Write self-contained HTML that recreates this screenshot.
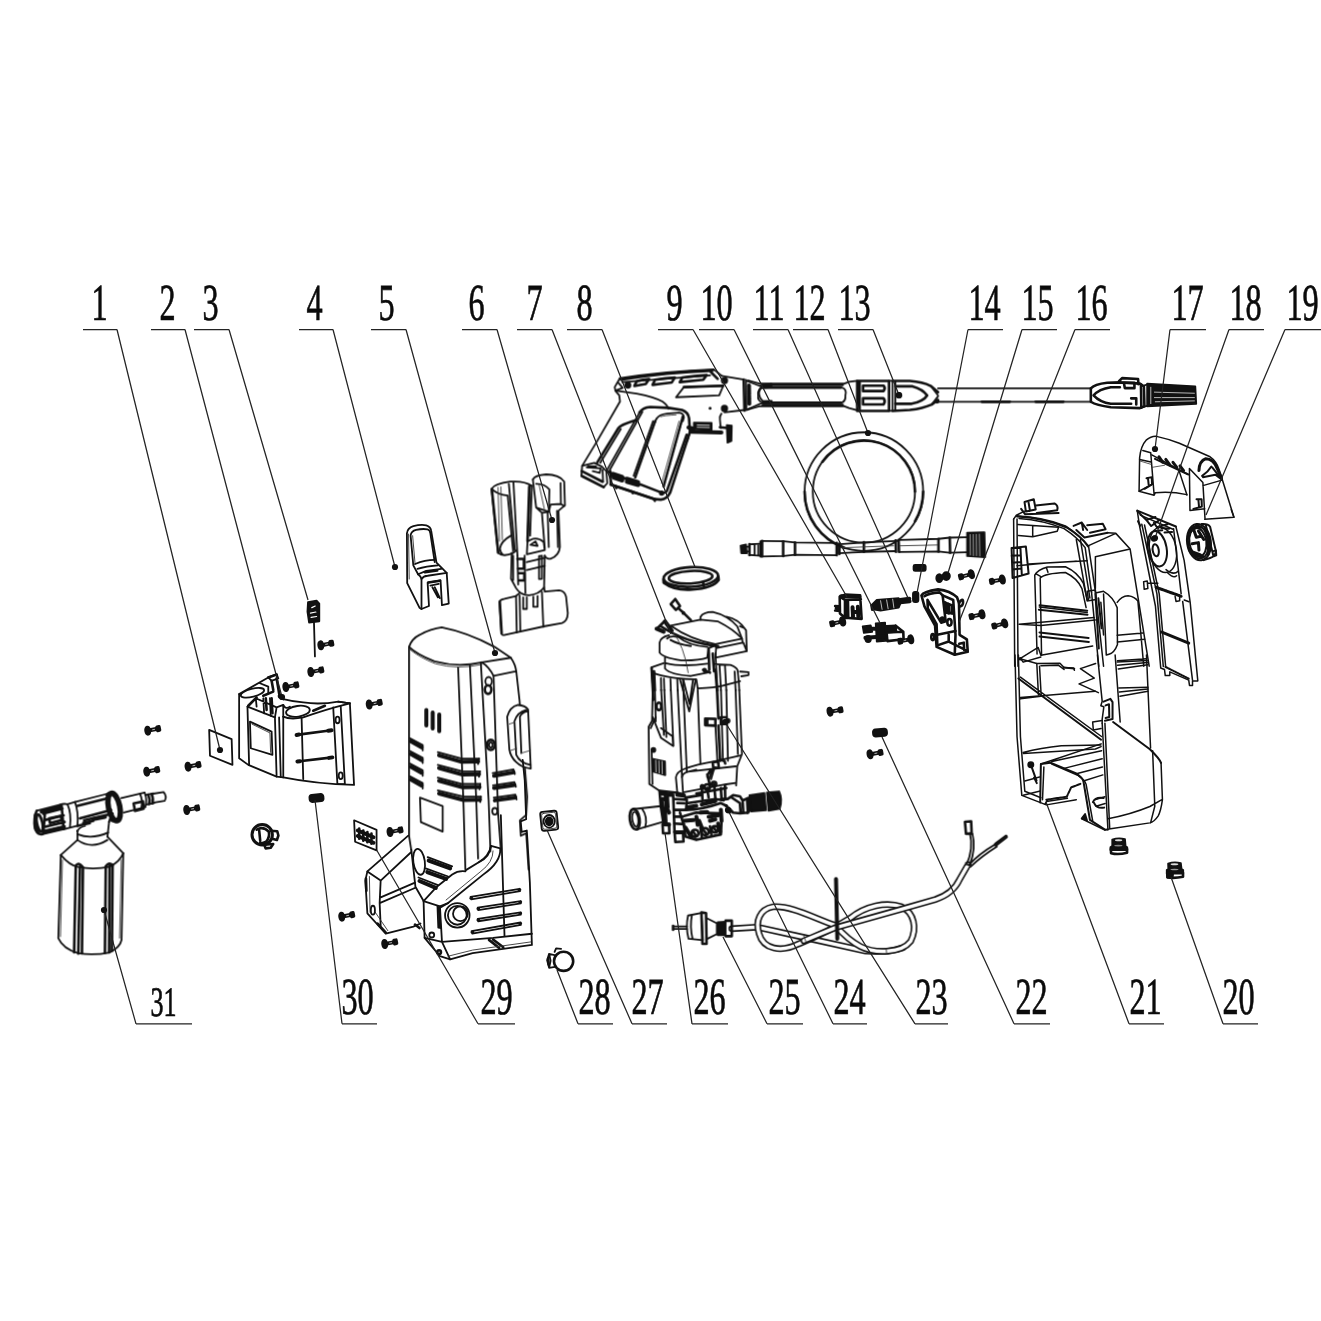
<!DOCTYPE html>
<html><head><meta charset="utf-8"><title>Exploded parts diagram</title>
<style>
html,body{margin:0;padding:0;background:#fff;}
body{width:1321px;height:1321px;overflow:hidden;font-family:"Liberation Serif",serif;}
svg{display:block;}
svg *{vector-effect:non-scaling-stroke;}
.p path,.p line,.p ellipse,.p circle,.p polyline,.p rect,.p polygon{fill:none;stroke:#111;stroke-width:1.8;stroke-linecap:round;stroke-linejoin:round;}
.p .t{stroke-width:0.9;stroke:#333;}
.p .thin path,.p .thin ellipse,.p .thin circle{stroke-width:1.5;}
.p .thin .k{stroke-width:2;}
.p .thin .kk{stroke-width:3;}
.p .thin .t{stroke-width:0.8;}
.p .k{stroke-width:2.6;}
.p .kk{stroke-width:4;}
.p .f{fill:#111;}
.p .w{fill:#fff;}
.ld{fill:none;stroke:#222;stroke-width:1.25;}
.dot{fill:#111;stroke:none;}
text{font-family:"Liberation Serif",serif;fill:#0a0a0a;stroke:#0a0a0a;stroke-width:0.7;text-rendering:geometricPrecision;}
#labels{opacity:0.995;}
</style></head><body>
<svg width="1321" height="1321" viewBox="0 0 1321 1321">
<rect x="0" y="0" width="1321" height="1321" fill="#fff" stroke="none"/>
<g class="p" style="filter:blur(0.35px)">
<defs><g id="scr"><ellipse cx="0" cy="0" rx="2.5" ry="4.1" class="f"/><path d="M2 0 L10 0" style="stroke-width:4;stroke-linecap:butt"/><rect x="9" y="-2.5" width="3.6" height="5" rx="0.8" class="f"/><path d="M4.6 0 L7.4 0" style="stroke:#fff;stroke-width:0.7;stroke-linecap:butt"/></g>
<g id="blob"><rect x="-7" y="-3.6" width="14" height="7.2" rx="2.5" class="f"/></g></defs><use href="#scr" transform="translate(320.8,645.3) rotate(-11)"/><use href="#scr" transform="translate(310.8,672) rotate(-11)"/><use href="#scr" transform="translate(285.8,687) rotate(-11)"/><use href="#scr" transform="translate(369.2,704.5) rotate(-11)"/><use href="#scr" transform="translate(390,832) rotate(-11)"/><use href="#scr" transform="translate(384.7,944) rotate(-11)"/><use href="#scr" transform="translate(147.7,730.7) rotate(-11)"/><use href="#scr" transform="translate(146.7,771.7) rotate(-11)"/><use href="#scr" transform="translate(188,766.7) rotate(-11)"/><use href="#scr" transform="translate(186.7,810) rotate(-11)"/><use href="#scr" transform="translate(341.7,916.7) rotate(-11)"/><use href="#scr" transform="translate(842.7,621.5) rotate(168)"/><use href="#scr" transform="translate(971.4,574.2) rotate(166)"/><use href="#scr" transform="translate(1002.4,579.5) rotate(170)"/><use href="#scr" transform="translate(982,614.3) rotate(168)"/><use href="#scr" transform="translate(1004.7,623.4) rotate(166)"/><use href="#scr" transform="translate(910.8,639.3) rotate(170)"/><use href="#scr" transform="translate(830,711.7) rotate(-10)"/><use href="#scr" transform="translate(870,754.3) rotate(-10)"/><use href="#blob" transform="translate(316.5,798) rotate(-5)"/><use href="#blob" transform="translate(880,732.7) rotate(-5)"/>
<!-- 02_cover.svg -->
<g transform="translate(190,620) scale(0.16654)">
<!-- part 1 sticker -->
<path d="M115 660 L250 715 L255 870 L120 815 Z"/>
<!-- part 2 cover -->
<path d="M295 445 L295 830 L350 870 L520 940 L560 945 Q760 985 985 990 L960 500 L890 490"/>
<path d="M295 445 L470 345 M345 520 L355 870 M345 520 L510 585 L520 940 M535 585 L545 942 M560 580 L560 945"/>
<path d="M360 610 L490 670 L495 810 L365 770 Z"/>
<path class="t" d="M372 625 L480 678 L484 795"/>
<ellipse cx="375" cy="437" rx="72" ry="24" transform="rotate(-14 375 437)"/>
<ellipse cx="648" cy="548" rx="72" ry="32" transform="rotate(-8 648 548)"/>
<path d="M560 580 Q600 600 680 585 Q800 540 960 500"/>
<path d="M670 585 L680 955 M860 525 L885 985 M905 518 L930 985 M885 985 L930 985"/>
<ellipse cx="886" cy="600" rx="12" ry="20"/><ellipse cx="905" cy="935" rx="12" ry="20"/>
<path class="k" d="M640 690 L850 662 M645 850 L855 825"/>
<path class="kk" d="M830 665 L850 662 M835 828 L855 825 M640 690 L655 688 M645 850 L660 848"/>
<!-- top details -->
<path d="M345 520 L395 470 L520 525 L510 585 M395 470 L400 520 M440 470 L445 560 M480 470 L485 575 M520 525 L560 510 L560 580"/>
<path class="k" d="M350 515 L400 465 M440 455 L500 430 M455 470 L460 540 M490 470 L495 560"/>
<path d="M470 345 L520 325 L530 350 L490 365 Z"/>
<path class="k" d="M470 345 L520 328 M490 365 L500 420 M520 350 L535 440 Q540 470 560 475"/>
<circle class="f" cx="542" cy="457" r="10"/>
<path d="M560 475 Q620 490 680 495 Q780 510 890 490 L960 500"/>
<path d="M560 510 Q575 540 600 520"/>
<path class="k" d="M740 545 L810 515"/>
<path d="M420 380 L470 400 L470 440"/>
</g>

<!-- 03_04.svg -->
<g transform="translate(290,500) scale(0.13626)">
<!-- part 3 plug -->
<path class="f" d="M132 750 L195 738 L215 760 L215 890 L140 900 L128 820 Z"/>
<path d="M160 790 L185 778 M150 830 L190 822 M155 862 L195 855" style="stroke:#fff;stroke-width:1.2"/>
<path d="M176 900 L183 1148"/>
<!-- part 4 clip -->
<path d="M860 590 L858 245 Q862 205 905 192 Q960 178 1000 186 Q1032 195 1036 225 L1075 460 L1150 535 L1165 760 L1115 772 L1105 590 L1010 606 L1020 778 L965 800 L950 790 L860 610 Z"/>
<path d="M885 260 Q890 228 925 220 Q975 208 1010 216 Q1028 222 1030 245 M885 260 L905 480 L940 545 M1030 245 L1062 455"/>
<path class="t" d="M900 262 L918 470 M870 250 L875 580"/>
<path d="M918 470 Q990 440 1062 440 M935 505 Q1000 485 1085 480 M940 545 Q960 560 965 580 L965 800 M940 545 L1000 520 L1110 505"/>
<path d="M965 580 Q980 558 1010 556 L1150 535"/>
<path class="k" d="M990 530 L1080 518 M1015 606 L1100 592"/>
<path d="M1030 628 L1092 616 M1062 640 L1100 720 M1045 640 L1085 715"/>
</g>

<!-- 05_housing.svg -->
<g transform="translate(380,615) scale(0.18168)">
<!-- top -->
<path d="M160 175 Q175 130 220 108 Q280 75 340 68 Q480 95 630 175 L720 235 L560 260 Q430 290 300 255 Q200 215 160 175 Z"/>
<path class="t" d="M165 190 Q220 235 305 268 Q430 302 560 272"/>
<path d="M160 175 L160 1215 L172 1293"/>
<path d="M430 290 L459 1023 L470 1400 M495 278 L530 1020 L540 1340 M555 262 L598 1020 L608 1300"/>
<path d="M560 260 Q600 285 625 335 L650 1090 L665 1290"/>
<path d="M625 335 L745 310 M720 235 Q745 270 750 310 L768 470 L810 1000 L805 1100 L770 1130 L775 1215 L805 1200 L818 1400"/>
<!-- handle -->
<path class="w" d="M700 560 Q715 505 760 495 Q800 498 815 520 L830 845 Q780 840 750 810 Q718 780 712 740 Z"/>
<path d="M740 585 Q755 535 805 522 M740 585 L750 770 Q770 815 828 825 M770 560 Q780 535 812 530 M770 560 L778 760"/>
<path class="t" d="M712 600 L742 590 M720 745 L752 735 M778 760 L828 745"/>
<!-- circles -->
<ellipse cx="598" cy="365" rx="18" ry="24"/><ellipse class="k" cx="595" cy="410" rx="18" ry="24"/>
<ellipse class="k" cx="610" cy="715" rx="22" ry="28"/><ellipse cx="610" cy="715" rx="10" ry="14"/>
<ellipse cx="632" cy="1080" rx="14" ry="18"/>
<!-- top slots -->
<path class="kk" d="M255 522 L255 608 M290 537 L290 625 M326 548 L326 640"/>
<!-- left vents -->
<path class="kk" d="M170 695 L228 728 M170 765 L228 798 M170 835 L228 868 M170 905 L228 938"/>
<path d="M165 678 L235 715 L235 745 M165 748 L235 785 L235 815 M165 818 L235 855 L235 885 M165 888 L235 925 L235 955"/>
<!-- centre vents -->
<path class="kk" d="M325 772 L450 808 L540 806 M325 842 L455 878 L545 876 M325 912 L455 948 L548 946 M325 982 L460 1018 L550 1016"/>
<path d="M318 755 L450 790 L545 790 M318 825 L455 860 L550 860 M318 895 L455 930 L552 930 M318 965 L460 1000 L555 1000"/>
<path d="M540 820 L545 790 M545 890 L550 860 M548 960 L552 930 M552 1030 L555 1000"/>
<!-- right vents -->
<path class="kk" d="M628 885 L735 866 M628 952 L740 935 M632 1020 L745 1004"/>
<path d="M620 870 L735 850 L742 875 M622 937 L740 920 L748 945 M626 1005 L745 988 L752 1015"/>
<!-- label rect -->
<path d="M220 1005 L345 1052 L345 1192 L225 1140 Z"/>
</g>
<g transform="translate(350,760) scale(0.20439)">
<!-- rear foot -->
<path d="M285 370 L85 545 L75 590 L85 750 L175 850 L310 815 L345 800"/>
<path d="M150 590 L300 450 M85 545 L150 590 L145 700 L320 625 M145 700 L150 810 M150 672 L318 600"/>
<path class="t" d="M95 570 L98 745 M120 740 L185 835"/>
<ellipse cx="112" cy="735" rx="10" ry="22"/>
<path class="k" d="M78 580 L80 640 M135 800 L175 845"/>
<!-- oval hole -->
<ellipse cx="338" cy="498" rx="28" ry="64" transform="rotate(-8 338 498)"/>
<path d="M300 440 L320 620 L360 690"/>
<!-- lower-left vents -->
<path class="kk" d="M385 492 L490 530 M378 548 L470 582 M340 592 L420 626"/>
<path d="M380 475 L500 520 M370 530 L480 570 M335 575 L430 612"/>
<!-- body curve -->
<path d="M565 540 L630 500 M630 500 Q685 475 690 420 L735 432 Q740 500 650 562 L480 700 L445 720"/>
<path d="M690 420 Q680 470 630 500"/>
<path d="M500 560 Q530 540 565 545 M360 690 L425 620 L500 560 M360 690 L440 716 L480 700"/>
<path class="t" d="M700 445 Q700 500 640 545 L470 685"/>
<!-- front foot -->
<path d="M360 690 L365 870 L440 960 L490 975 L600 945 L890 905 L880 600 L865 345 L840 352 L835 300 L862 290 L855 100 L845 0"/>
<path d="M440 716 L450 890 L490 975 M450 890 L700 870 L890 850 M365 870 L450 890"/>
<path class="k" d="M436 722 L440 812"/>
<path d="M428 715 L432 820 L446 822"/>
<circle cx="525" cy="760" r="60"/><circle cx="525" cy="760" r="46"/><circle cx="540" cy="752" r="36"/>
<path d="M590 670 L830 630 M593 682 L832 642 M625 722 L835 690 M627 734 L836 702 M625 777 L835 745 M627 789 L836 757 M595 837 L835 795 M598 849 L836 807"/>
<path class="k" d="M590 676 L596 675 M826 636 L832 635 M625 728 L630 727 M830 696 L836 695 M625 783 L630 782 M830 751 L836 750 M596 843 L602 842 M830 801 L836 800"/>
<path class="k" d="M680 880 L730 920 M700 878 L750 916"/>
<circle cx="400" cy="856" r="12"/><circle class="k" cx="436" cy="940" r="9"/>
<path d="M738 270 L756 862"/>
<path class="t" d="M480 960 L600 930 L885 890"/>
<!-- sticker 29 -->
<path d="M20 295 L130 342 L130 442 L25 400 Z"/>
<path class="kk" d="M38 345 L115 378 M38 372 L115 405"/>
<path class="k" d="M45 335 L45 385 M65 345 L65 395 M85 352 L85 402 M105 360 L105 410"/>
<!-- small screw-ish near 29 line -->
<path class="k" d="M318 805 L340 822"/>
</g>
<!-- part 27 button -->
<g transform="translate(549.2,820.8)">
<rect x="-8.3" y="-9.5" width="16.6" height="19" rx="2.5" transform="rotate(-6)"/>
<rect class="t" x="-7" y="-8" width="14" height="16" rx="2" transform="rotate(-6)"/>
<ellipse cx="0" cy="0.5" rx="5.6" ry="6.3"/><ellipse class="f" cx="0" cy="0.5" rx="3.4" ry="4"/>
</g>
<!-- part 28 cap -->
<g transform="translate(563.6,961.3)">
<circle class="k" cx="0" cy="0" r="9.6"/>
<path d="M-8 -6 L-14.5 -7.5 L-16.5 -1 L-14.5 6.5 L-8.5 5.5 M-14.5 -7.5 L-13 -0.5 L-14.5 6.5 M-9 -9.5 L-7.5 -13 L-2.5 -12.5"/>
<path class="k" d="M-15.5 -3 L-15 3"/>
</g>

<!-- 06_holder.svg -->
<g transform="translate(470,455) scale(0.14383)">
<!-- left cylinder -->
<path d="M150 235 Q170 200 280 185 Q380 178 430 215 M150 235 L195 680 Q230 712 300 682 L320 665"/>
<path d="M150 235 Q190 275 262 282 M262 282 L300 670 M270 200 L312 660 M302 190 L330 700 M415 215 L400 600 M430 215 L418 560"/>
<path class="k" d="M152 240 L196 678 M412 220 L400 598"/>
<path d="M208 650 Q215 600 285 560 M208 650 Q212 680 225 690"/>
<path class="t" d="M195 225 L205 600 M215 222 L225 590"/>
<!-- right cylinder -->
<path d="M437 170 Q450 140 530 135 Q620 135 655 185 L660 350 L615 388 L625 640 Q620 700 560 722 Q530 722 520 700"/>
<path d="M437 170 L460 365 L500 402 L520 650 M460 200 Q520 200 552 240 L548 395 L505 402 M460 365 L548 395"/>
<path d="M630 195 L632 340 M560 345 L632 340 L655 355 M560 345 L548 395 M540 400 L548 640 M605 388 L612 640"/>
<path class="t" d="M480 205 L520 390"/>
<!-- connector -->
<path d="M400 600 L395 690 L520 660 L512 605 Q480 575 440 582 Z"/>
<path d="M420 625 L455 600 L470 632 Z"/>
<!-- lower body -->
<path d="M290 680 L285 860 L320 925 Q350 975 410 975 Q480 968 515 920 L520 700"/>
<path d="M300 700 L300 870 M330 700 L335 900 M380 700 L385 960 M395 745 L520 715 M395 800 L520 770"/>
<path class="k" d="M330 722 L375 722 L375 790 L335 790 M340 822 L378 822 L378 872 L342 872"/>
<path d="M480 702 L500 700 L500 860 L480 862 Z"/>
<!-- prongs -->
<path d="M370 990 L370 1070 L395 1070 L395 990 M440 985 L440 1055 L470 1055 L470 980"/>
<!-- base -->
<path d="M205 1020 Q210 1005 240 1000 L320 980 L345 960 M515 920 L520 950 L620 940 Q660 945 668 985 L680 1100 Q678 1155 640 1168 L520 1190 L245 1250 Q220 1258 218 1235 L205 1020"/>
<path d="M320 980 L325 1235 M345 975 L350 1228 M500 952 L510 1195"/>
<path class="k" d="M207 1020 L220 1240"/>
</g>

<!-- 07_gun.svg -->
<g transform="translate(570,350) scale(0.1514)">
<!-- top rail -->
<path d="M330 185 Q640 140 950 128 L1000 170 M335 198 Q640 152 940 140 M345 212 L925 168"/>
<path d="M330 190 Q640 146 950 132"/><path class="k" d="M930 145 L975 190"/>
<path d="M330 185 L295 245 L300 270 L325 300 L330 340 L180 600 L80 765"/>
<path d="M318 215 L348 250 L300 268"/>
<!-- slots -->
<path class="k" d="M440 207 Q480 195 522 192 L500 224 Q460 230 425 237 Z M562 196 Q630 184 692 182 L672 214 Q600 222 545 230 Z M742 182 Q820 170 902 166 L880 196 Q800 204 725 212 Z"/>
<path d="M752 245 L1012 236 L985 300 L700 312 Z"/>
<path class="k" d="M752 245 L1012 236"/>
<circle class="f" cx="382" cy="232" r="17"/><circle class="f" cx="1020" cy="202" r="18"/><circle class="f" cx="1020" cy="386" r="18"/>
<circle class="f" cx="925" cy="385" r="4"/>
<!-- lower body line -->
<path d="M300 268 L440 288 Q560 312 610 340 Q645 365 650 388"/>
<!-- grip -->
<path class="k" d="M458 412 Q480 380 530 376 L650 382 L740 396 Q780 410 786 450 L792 540 L662 940 Q640 985 600 988 L560 985 L268 888"/>
<path d="M455 420 L240 800 M478 408 L262 792 M792 540 L775 600"/>
<path class="k" d="M770 560 L640 930 M245 802 L600 940 Q630 948 640 930"/>
<path d="M570 455 Q590 425 640 420 L720 414 Q750 418 752 445 L745 470"/>
<path class="k" d="M562 470 L430 842" style="stroke-dasharray:2 1.2"/>
<path class="k" d="M745 440 L618 900" style="stroke-dasharray:2 1.2"/>
<path d="M548 470 L420 830 M570 455 L560 480"/>
<path class="t" d="M600 440 Q620 432 700 428 M720 470 L605 880"/>
<!-- curved back line -->
<path class="k" d="M180 742 L320 515 Q340 490 440 462"/>
<path d="M200 745 L335 522"/>
<!-- butt -->
<path d="M80 765 L75 832 L222 906 L246 880 L240 800 L210 770 L160 745 Z"/>
<path class="k" d="M78 800 L215 870 M78 832 L222 906"/>
<path d="M110 775 L202 782 L196 812 L150 800 M215 790 L218 870"/>
<path class="k" d="M120 770 L170 772"/>
<!-- bottom plate -->
<path class="k" d="M265 800 L270 885 M268 888 L560 985"/>
<path class="kk" d="M285 818 L345 838 L345 862 L288 842 Z M375 850 L450 872 M375 870 L450 892"/>
<path class="k" d="M300 900 L305 912 M410 935 L415 945 M555 985 L560 996"/>
<circle class="f" cx="605" cy="945" r="12"/>
<!-- right of body -->
<path d="M1000 170 L1150 195 M1020 412 L1150 396 M1000 420 Q985 440 990 460 L995 515"/>
<path class="k" d="M1147 195 L1152 400"/>
<path d="M1162 198 L1165 398 M1162 200 L1250 236 L1330 226 M1165 396 L1262 352 L1330 346"/>
<path class="kk" d="M1182 235 L1184 355" style="stroke-dasharray:1.6 0.8"/>
<path d="M1255 255 Q1235 300 1270 335"/>
<path class="k" d="M1262 245 L1330 238 M1275 340 L1330 338"/>
<!-- trigger mech -->
<path class="f" d="M818 480 L935 482 L935 528 L818 524 Z"/>
<path d="M840 495 L920 497 M840 510 L920 512" style="stroke:#fff;stroke-width:0.8"/>
<path class="kk" d="M782 512 L815 520 M800 540 L1000 545"/>
<path class="k" d="M990 510 L1040 515"/>
<path class="f" d="M1035 496 L1068 500 L1066 600 L1040 612 Z"/>
</g>

<!-- 08_lance.svg -->
<g transform="translate(750,350) scale(0.18168)">
<path d="M-10 168 L50 185 L520 185 L545 175 L590 170 M-10 327 L50 310 L520 310 L545 320 L590 332"/>
<path class="k" d="M70 192 L510 192 M70 303 L510 303"/>
<path d="M70 207 L505 207 Q535 215 525 250 Q528 280 505 290 L70 290 Q40 280 45 248 Q42 215 70 207 Z"/>
<path class="k" d="M75 207 L500 207 M75 290 L500 290"/>
<!-- block -->
<path class="k" d="M590 170 L765 170 L765 335 L590 335 Z M603 175 L603 330"/>
<path class="k" d="M622 196 L735 196 Q748 210 735 226 L622 226 Z M622 266 L735 266 Q748 282 735 300 L622 300 Z"/>
<path d="M765 170 L785 170 L785 335 L765 335"/>
<!-- nose -->
<path class="k" d="M785 170 L880 170 Q950 175 995 198 L1035 232 M785 335 L880 330 Q950 322 1000 300 L1035 275"/>
<path class="k" d="M800 200 L895 200 Q950 215 975 250 Q955 282 890 296 L800 296"/>
<path d="M995 198 Q1015 225 1035 250 M1000 300 Q1020 275 1035 255 M800 175 L800 330"/>
<circle class="f" cx="820" cy="250" r="12"/><circle class="f" cx="1030" cy="282" r="8"/>
<!-- rod -->
<path d="M1035 211 L1876 211 M1035 285 L1876 285"/>
<path class="k" d="M1285 285 L1300 285 M1276 285 L1430 285 M1572 285 L1725 285"/>
<g transform="translate(1266,0)">
<path class="k" d="M610 211 Q630 188 700 180 L770 178 L880 185 L902 200 L905 310 L880 320 L720 315 Q640 305 610 285 Z"/>
<path class="k" d="M770 205 L720 205 Q655 215 625 250 Q660 288 720 296 L832 296"/>
<path class="k" d="M765 172 L782 155 L870 160 L872 188 M792 180 L850 180 L850 210 L797 210 Z"/>
<path class="k" d="M832 266 L860 266 L860 300"/>
<path class="k" d="M886 190 L888 318"/>
<path class="f" d="M920 185 L1185 200 L1190 296 L920 310 Z"/>
<path d="M960 232 L1180 238 M960 262 L1180 262 M965 285 L1180 280 M940 205 L940 295" style="stroke:#fff;stroke-width:0.7"/>
<path d="M905 195 L920 190 M905 312 L920 308"/>
</g>
</g>

<!-- 09_switch.svg -->
<g transform="translate(820,550) scale(0.1514)">
<!-- part 9 switch -->
<path class="k" d="M130 308 L165 295 L265 300 L275 455 L165 448 L132 420 Z M165 330 L270 326 M165 330 L165 448 M130 308 L165 330"/>
<path class="kk" d="M140 305 L260 308 M180 340 L182 440"/>
<path class="kk" d="M215 378 L218 440 M250 375 L253 438 M216 410 L252 408"/>
<path class="k" d="M100 370 L130 372 M100 400 L130 402 M105 385 L130 386"/>
<!-- part 11 -->
<path class="f" d="M345 360 L375 330 L520 318 L535 345 L520 380 L400 400 L350 392 Z"/>
<path class="kk" d="M530 330 L590 322 M530 345 L592 338"/>
<path d="M400 335 L410 392 M440 330 L450 388 M480 325 L488 382" style="stroke:#fff;stroke-width:0.7"/>
<path class="k" d="M340 365 L345 395"/>
<!-- part 14 bits -->
<rect class="f" x="618" y="98" width="80" height="40" rx="10"/>
<rect class="f" x="614" y="276" width="36" height="68" rx="14"/>
<!-- part 15 screw+nut -->
<ellipse class="f" cx="788" cy="186" rx="20" ry="26"/><ellipse class="f" cx="834" cy="172" rx="24" ry="26"/>
<!-- part 10 microswitch -->
<path class="f" d="M282 505 L335 498 L345 540 L290 548 Z M368 485 L430 480 L435 600 L375 605 Z M440 502 L500 498 L505 540 L445 545 Z"/>
<path class="k" d="M440 545 L550 540 L552 590 L445 602 Z M500 500 L550 540"/>
<path class="kk" d="M300 580 L420 572 M345 520 L370 520"/>
<ellipse class="f" cx="318" cy="588" rx="18" ry="20"/>
<!-- part 16 bracket -->
<path class="k" d="M670 300 Q680 275 780 260 Q860 270 905 312 L918 350 L922 560 L970 590 L976 672 L890 692 L770 640 L760 500 L690 372 Z"/>
<path class="k" d="M690 305 Q720 285 790 280 L810 300 L830 470 L800 480 L710 330 M710 330 L712 385 L770 490 L775 630"/>
<path class="k" d="M918 350 Q945 310 945 345 Q945 370 920 375"/>
<path class="k" d="M810 300 L880 330 L895 560 L890 690 M830 350 L870 365 L872 420 L835 410"/>
<path class="kk" d="M825 350 L835 410 M845 360 L850 415"/>
<ellipse class="k" cx="855" cy="478" rx="14" ry="22"/><ellipse class="f" cx="808" cy="458" rx="12" ry="14"/>
<path class="k" d="M775 560 L895 535 M775 630 L850 605 L850 560 M850 605 L970 665 M920 620 L950 612 L952 660"/>
<ellipse class="k" cx="745" cy="575" rx="10" ry="20"/>
</g>

<!-- 12_hose.svg -->
<g transform="translate(730,415) scale(0.20439)">
<circle cx="655" cy="375" r="290"/>
<circle cx="655" cy="375" r="250"/>
<path class="k" d="M452 229 A250 250 0 0 1 905 375 M365 375 A290 290 0 0 0 560 650 M945 375 A290 290 0 0 1 905 520"/>
<!-- left wand -->
<path class="f" d="M52 640 L78 634 L82 676 L55 676 Z"/>
<path class="k" d="M95 632 L95 685 M150 620 L150 692"/>
<path d="M82 645 L95 645 M82 668 L95 668 M95 632 L150 630 M95 685 L150 688 M120 632 L120 686 M138 632 L138 688"/>
<path d="M155 616 L262 618 L318 624 L520 626 M155 692 L262 690 L318 684 L520 686"/>
<path class="k" d="M157 616 L157 692 M260 618 L260 690 M318 624 L318 684 M522 626 L522 686 M535 630 L535 680"/>
<path d="M535 632 L655 624 L810 616 M535 676 Q600 672 655 670 L810 666"/>
<path class="k" d="M655 622 L655 670 M810 614 L812 670 M825 612 L827 670"/>
<path d="M827 612 L1020 606 L1075 600 L1160 598 M827 670 L1020 668 L1075 674 L1160 672"/>
<path class="k" d="M1020 606 L1020 668 M1075 600 L1077 674"/>
<path class="t" d="M540 650 L800 640 M830 640 L1015 636"/>
<!-- nut -->
<path class="f" d="M1160 576 L1245 574 L1248 696 L1160 690 Z"/>
<path d="M1175 585 L1176 685 M1190 585 L1191 688 M1205 584 L1206 688 M1220 583 L1222 690" style="stroke:#fff;stroke-width:0.6"/>
</g>

<!-- 17_18_19.svg -->
<g class="thin" transform="translate(1120,425) scale(0.10598)">
<!-- part 17 -->
<path d="M180 625 L185 310 Q195 200 250 140 Q290 105 335 105 Q450 130 560 172 L850 300 Q910 340 935 420 L962 505 L1075 870 L800 890"/>
<path d="M1050 800 L1075 870 M215 240 L290 262 L322 660 M185 325 L292 350 M180 625 L322 662 L332 640 Q480 625 630 657 M180 625 L300 560"/>
<path class="t" d="M190 340 L295 372 M300 400 L420 380"/>
<path d="M300 282 L650 470 M560 440 L632 660 M655 410 L660 806 L800 790 M655 410 L782 542 L802 882 M782 572 L962 520"/>
<path class="kk" d="M368 300 L402 350 M432 325 L470 376 M500 352 L536 400 M566 386 L600 430"/>
<path class="k" d="M330 320 L640 465"/>
<path class="kk" d="M745 430 Q748 340 810 318 Q880 320 912 400 L958 500"/>
<path class="k" d="M775 480 Q830 445 862 392 M782 492 L900 470 L962 515 M872 402 L960 512"/>
<path class="k" d="M250 502 L300 492 L302 560 L232 602 M265 510 L270 560 M722 700 L770 700 L772 770 L692 792 M740 710 L745 765"/>
<!-- part 19 wheel (drawn in this tile coords) -->
<ellipse class="k" cx="745" cy="1105" rx="112" ry="172" transform="rotate(-8 745 1105)"/>
<ellipse class="k" cx="735" cy="1105" rx="80" ry="135" transform="rotate(-8 735 1105)"/>
<path class="k" d="M770 935 Q830 930 850 960 L905 1190 Q900 1240 850 1255 L790 1275 M810 945 L880 1230"/>
<path class="kk" d="M700 1000 L720 1060 L760 1050 M680 1120 L740 1110 L745 1180 M690 1200 L760 1225 M740 1000 L790 1080"/>
<path class="k" d="M880 1190 L905 1185 L908 1230 L885 1238"/>
<path class="kk" d="M660 1010 Q700 960 760 965 M655 1180 Q700 1250 780 1240 M800 980 Q850 1100 830 1220"/>
<ellipse class="k" cx="740" cy="1105" rx="98" ry="155" transform="rotate(-8 740 1105)"/>
</g>
<g class="thin" transform="translate(1110,500) scale(0.1514)">
<!-- part 18 panel -->
<path class="k" d="M180 70 L435 175"/>
<path d="M435 175 L490 400 L530 680 L580 1195 L545 1195 L545 1225 L525 1225 L520 1190 L395 1135 L395 1160 L365 1160 L360 1120 L335 1110 L300 700 L195 170 L180 70"/>
<path d="M210 160 L310 620 L352 1100 M228 165 L325 620 L368 1105 M420 190 L470 620 M480 670 L545 1190 M200 100 L420 195"/>
<path class="k" d="M185 140 L200 170 M182 75 L240 132 L300 112 M232 122 L272 172 L330 130 M290 150 L310 180 L380 160 M340 185 L390 190"/>
<ellipse cx="350" cy="330" rx="88" ry="150" transform="rotate(-10 350 330)"/>
<ellipse class="k" cx="312" cy="322" rx="62" ry="118" transform="rotate(-10 312 322)"/>
<ellipse class="k" cx="302" cy="332" rx="20" ry="40" transform="rotate(-10 302 332)"/>
<circle class="f" cx="290" cy="256" r="15"/>
<path d="M370 460 Q420 500 450 470 M380 480 Q420 520 440 500"/>
<path class="k" d="M360 215 L410 212 M300 205 L345 200"/>
<path class="kk" d="M305 577 L470 636" style="stroke-dasharray:2 0.8"/>
<path d="M222 540 L246 535 L250 585 L226 590 Z M246 550 L316 550 M430 636 L436 670 L460 666 L460 642 M490 660 L522 672"/>
<path class="kk" d="M342 872 L520 945"/>
<path class="k" d="M366 1102 L520 1180" style="stroke-dasharray:2 0.8"/>
</g>

<!-- 21_rear.svg -->
<g class="thin" transform="translate(1000,485) scale(0.13626)">
<!-- upper -->
<path d="M100 250 L108 1330 M125 250 L132 1330"/>
<path d="M100 250 L120 222 L180 192 M120 225 Q320 235 480 300 Q590 370 650 450 L700 780 M140 245 Q320 258 470 320 Q570 385 625 460 L672 790"/>
<path class="k" d="M125 232 Q330 245 490 312 Q600 382 648 452"/>
<!-- hooks -->
<path class="k" d="M180 125 L248 105 L262 180 L190 195 Z M262 150 L400 135 Q430 150 420 185 L270 205 M155 175 L185 215 L430 205 M210 130 L220 190"/>
<path class="k" d="M540 300 L600 275 L640 330 M640 295 L755 285 L775 325 L660 350 M560 330 L620 385 L790 350 M600 275 L610 330"/>
<path d="M130 290 L430 310 L420 340 L240 380 L135 370 M240 300 L240 380"/>
<!-- right top face -->
<path d="M650 445 L850 355 L955 470 L700 527 M790 350 L850 355 M955 470 L1095 1330 M700 527 L700 760"/>
<path d="M560 400 L640 850 M590 400 L660 830"/>
<!-- left lug -->
<path class="k" d="M85 462 L190 452 L210 650 L92 682 Z M150 460 L160 660 M85 520 L150 515 M88 570 L152 565 M90 620 L155 612"/>
<!-- shelf -->
<path d="M125 592 L340 572 L640 556 M210 580 L560 560"/>
<!-- inner arch -->
<path d="M255 662 Q275 622 350 602 L480 600 Q570 640 612 722 L642 850 M255 662 L272 1240 M295 682 Q330 648 480 642 Q570 685 602 762 L632 900 M295 682 L305 1250"/>
<path d="M340 605 L352 640 M262 650 L300 672"/>
<!-- shelves -->
<path class="k" d="M290 882 L640 922 M285 915 L642 952"/>
<path d="M288 895 L640 936 M140 1022 L690 972 M140 1022 L300 1032 L700 990"/>
<path class="k" d="M290 1082 L650 1122 M290 1112 L652 1152"/>
<path d="M150 1272 L280 1192 L300 1250 L680 1182 M150 1272 L170 1300 L300 1262"/>
<circle class="f" cx="150" cy="1275" r="8"/>
<!-- capsule -->
<path d="M700 792 L760 780 Q830 820 860 900 L862 1170 Q840 1230 800 1242 L780 1248 L760 800"/>
<path class="k" d="M722 832 L745 1052 M700 800 L725 1200"/>
<path d="M640 780 L700 770 L705 840 L650 850 Z M740 860 L760 1100"/>
<path d="M860 862 Q890 815 940 812 Q990 818 1012 852 L1055 1330 M860 1102 L1050 1086 M862 1152 L1062 1132 M862 1290 L1075 1275"/>
<path d="M672 790 L725 1330 M700 780 L760 1330"/>
<g transform="translate(0,1247.6)">
<path d="M110 0 L125 600 L160 1030 L340 1100 L560 1062 M135 0 L150 600 L182 1000 L300 1048"/>
<path class="k" d="M300 800 L295 1082 M300 800 L370 790 L560 870 Q605 900 612 925 L660 1210 L770 1282 L792 1280"/>
<path d="M322 822 L312 1062 M370 790 L380 800 L575 885 Q625 920 632 950 L680 1215"/>
<path class="k" d="M340 1062 L490 1040 L522 972 L590 946" style="stroke-dasharray:3 1"/>
<path d="M340 1075 L495 1052 M330 1095 L350 1062"/>
<path class="f" d="M598 1200 L625 1165 L640 1215 Z"/>
<path d="M600 1202 L770 1285"/>
<!-- right body -->
<path d="M750 500 L792 1282 M770 500 L805 1272"/>
<path class="k" d="M830 492 L1100 692 Q1170 760 1182 792"/>
<path d="M1182 792 L1192 1062 Q1180 1150 1160 1182 Q1130 1225 1100 1232 L800 1277 M792 1202 Q960 1170 1100 1112 L1188 1062 M1120 702 L1136 1110 L1105 1232"/>
<path d="M1075 0 L1105 682 M845 0 L882 492"/>
<!-- diagonal -->
<path class="k" d="M135 172 L742 622"/>
<path d="M150 162 L745 598 M150 312 L700 266 M150 322 L330 300 M290 82 L302 292 M270 62 L282 290"/>
<path d="M140 26 L270 62 L440 60 L470 92 L540 96 L546 112 M300 78 L430 76 L470 106"/>
<path class="k" d="M470 92 L545 100"/>
<path d="M590 100 L702 62 M590 100 L692 170 L580 212 L722 276"/>
<path d="M715 0 L750 340 L740 372 L762 380 L750 470 L750 500"/>
<path class="k" d="M760 342 L810 322 L826 346 L826 470 L770 482 M775 370 L800 362 L802 455 L775 462"/>
<path d="M680 492 L750 480 M680 492 L685 550 L742 540"/>
<path d="M860 52 L1080 40 M868 102 L1085 72 M862 75 L1082 55 M872 242 L1086 236 M880 302 L1086 266 M876 272 L1086 250"/>
<!-- lower shelf + steps -->
<path d="M170 716 Q300 680 450 666 L740 660 M172 722 L700 690 L742 672"/>
<path d="M300 800 L742 652 M380 782 L746 702 M470 832 L750 762 M560 872 L752 822 M612 925 L755 880"/>
<circle class="f" cx="226" cy="806" r="20"/>
<path class="k" d="M230 815 L268 922 M250 900 L270 940"/>
<path d="M182 925 L290 895 M170 1030 L295 998"/>
<path class="k" d="M682 1080 Q700 1040 760 1050 M690 1085 Q710 1130 765 1120"/>
<path d="M700 1060 L770 1040 M705 1110 L772 1090"/>
</g>
</g>

<!-- 23_motor.svg -->
<g transform="translate(620,550) scale(0.13626)">
<!-- ring part 8 -->
<ellipse class="k" cx="520" cy="198" rx="200" ry="72" transform="rotate(-3 520 198)"/>
<ellipse class="k" cx="518" cy="200" rx="160" ry="46" transform="rotate(-3 518 200)"/>
<path class="k" d="M318 215 L320 240 Q400 300 530 290 Q680 280 724 220 L722 195 M610 235 L612 262"/>
<!-- terminal + wire -->
<path class="k" d="M372 398 L405 360 L440 412 L410 440 Z M425 425 L470 465 L520 515"/>
<circle class="f" cx="465" cy="462" r="7"/>
<!-- capacitor lid -->
<path d="M370 555 L590 512 L720 525 Q830 580 895 650 L700 692 Q520 660 370 555 Z"/>
<path class="k" d="M270 578 L330 520 L385 592 M300 560 Q480 680 720 705"/>
<path class="kk" d="M268 578 L320 600 M330 525 L370 580"/>
<path d="M590 492 Q610 455 680 455 Q790 480 860 560 L895 650 M780 490 Q870 505 925 590 L930 740 M880 560 L915 575 M590 492 L590 512"/>
<path d="M700 692 L705 720 L900 680 L895 650 M700 790 L930 742 L905 680 M650 720 L700 700 M705 720 L700 790"/>
<!-- round cap -->
<path d="M290 680 Q295 640 360 625 M290 680 L290 752 Q310 790 450 810 Q580 812 640 790 L650 720"/>
<path d="M345 650 Q370 625 430 640 Q500 700 640 712 M370 660 Q420 690 520 705"/>
<path d="M330 790 L330 870 Q370 915 520 925 L640 900 M335 830 Q450 860 640 835"/>
<path class="k" d="M650 722 L655 880 M680 760 L690 890"/>
<!-- lower housing top -->
<path d="M230 862 L320 830 M230 862 L240 1000 M240 900 Q350 945 560 950 M570 1016 Q700 1010 748 998 L881 963 M560 950 L570 1016"/>
<path class="k" d="M232 865 L245 1100 M250 890 L256 1030"/>
<path d="M300 940 L302 1030 M322 942 L325 1030 M370 948 L373 1030 M420 950 L423 1030 M462 950 L465 1030"/>
<path d="M440 950 L508 1185 L555 950 M465 955 L510 1130 L535 955"/>
<path class="t" d="M385 600 Q470 700 500 900"/>
<path d="M700 760 L715 1030 M694 838 L810 843 Q855 860 863 883 L872 972 L875 1030 M881 892 L943 896 L943 918 L890 927 M841 892 L848 1030 M730 845 L741 1030 M770 845 L780 1030"/>
<path class="k" d="M610 880 L660 900 M700 880 L712 1030"/>
<circle class="f" cx="620" cy="882" r="10"/>
<g transform="translate(0,1027.5)">
<!-- left side -->
<path d="M240 0 L235 225 L210 270 L215 690 L290 740 M262 200 L225 280"/>
<ellipse class="k" cx="285" cy="120" rx="18" ry="28"/>
<path d="M240 200 L300 350 L390 412 L385 340 L300 280 M302 0 L322 330 M325 0 L340 345 M373 0 L392 410 M256 0 L262 230"/>
<circle class="f" cx="245" cy="440" r="14"/>
<path class="f" d="M242 505 L330 525 L332 625 L245 600 Z"/>
<path d="M262 515 L264 602 M285 520 L287 610 M308 524 L310 615" style="stroke:#fff;stroke-width:0.7"/>
<path d="M232 450 L238 690"/>
<!-- ribs -->
<path d="M423 0 L455 640 M465 0 L490 600 M570 0 L590 540 M741 0 L755 520 M780 0 L792 520 M700 260 L715 530"/>
<path d="M848 0 L865 470 M875 0 L895 470 L860 560 L852 700"/>
<path class="k" d="M712 0 L722 210 M722 262 L735 520"/>
<!-- clip -->
<path class="k" d="M625 210 L700 212 L700 262 L625 258 Z M640 215 L640 255 M740 200 L782 200 M740 250 L780 250 M740 200 L740 252"/>
<circle class="f" cx="790" cy="226" r="14"/>
<!-- shroud -->
<path d="M410 642 Q415 600 470 580 Q560 545 700 522 L885 480 M410 642 L420 752 L470 765 M455 640 Q460 610 500 600 L850 560 M455 640 L462 752 M462 752 L780 692 L850 682 M500 600 L560 585"/>
<path class="k" d="M680 530 L720 525 L725 570 L685 575 Z M650 610 L700 570 M640 620 L660 700 M735 515 Q770 510 772 540"/>
<path d="M662 580 L640 640 M675 585 L655 650 M688 588 L668 655"/>
<!-- pump body -->
<path class="k" d="M290 740 L300 860 L320 990 M330 760 L340 980 M390 770 L400 1040 M290 740 L420 755"/>
<path class="kk" d="M310 800 L330 802 M340 860 L360 900 M320 985 L360 988 M405 1045 L460 1045"/>
<path class="k" d="M312 985 L360 985 L362 1052 L316 1052 Z M400 1040 L462 1040 L466 1112 L406 1116 Z"/>
<path class="k" d="M400 800 L490 805 L485 880 L400 880 M420 830 L470 832 M400 930 L460 930 M400 980 L470 985"/>
<path class="k" d="M500 830 L700 800 L760 810 M480 880 Q600 880 740 830 L780 850 M470 925 L560 900 L740 905 M470 1000 L480 1075 L560 1100 L740 1060 L745 960"/>
<path class="k" d="M600 700 L605 800 M640 720 L650 790 M690 690 L700 800 M740 720 L745 800 M770 700 L772 800"/>
<circle class="f" cx="605" cy="710" r="14"/><circle class="k" cx="640" cy="712" r="20"/><circle class="k" cx="690" cy="690" r="16"/>
<path class="kk" d="M560 930 L570 990 M590 900 L640 895 M660 960 L700 950 M720 980 L735 1040"/>
<circle class="k" cx="550" cy="1052" r="26"/><circle class="k" cx="625" cy="1040" r="26"/><circle class="k" cx="696" cy="1022" r="24"/>
<path class="k" d="M540 1045 L555 1065 M615 1032 L632 1052 M688 1012 L702 1030"/>
<path class="kk" d="M300 760 L380 770 M305 820 L330 960 M345 780 L350 860 M420 770 L470 775 M500 860 L560 850 M600 840 L700 815 M470 960 L540 955 M480 1010 L520 1075 M580 960 L600 1010 M650 930 L720 920 M740 880 L745 960"/>
<path class="k" d="M560 760 L780 720 M480 790 L600 770 M440 900 L470 1000 M660 1000 L670 1060 M590 1010 L600 1080"/>
<!-- inlet pipe -->
<ellipse class="k" cx="108" cy="948" rx="36" ry="76" transform="rotate(-8 108 948)"/>
<ellipse cx="112" cy="948" rx="22" ry="54" transform="rotate(-8 112 948)"/>
<path d="M100 874 L300 852 M128 1022 L312 968"/>
<path d="M160 868 Q205 930 185 1005"/>
<!-- outlet -->
<path class="k" d="M745 800 L790 800 L830 772 L880 780 L900 812 L940 792 M780 850 L830 900 L880 905 L940 900 M820 790 L880 830 L885 900 M900 812 L905 900"/>
<circle class="f" cx="800" cy="886" r="15"/>
<path class="f" d="M950 772 L1060 756 L1072 882 L962 892 Z"/>
<path class="f" d="M1078 752 L1168 744 Q1195 800 1172 872 L1090 886 Z"/>
<path class="f" d="M930 800 L955 790 L960 880 L935 905 Z"/>
</g>
</g>

<!-- 25_cord.svg -->
<g transform="translate(670,810) scale(0.25738)">
<!-- cord: dark wide stroke + white core -->
<g style="fill:none;stroke-linecap:round">
<path id="c1" d="M240 461 L338 455 L530 497 L760 548 Q850 555 905 535" style="stroke:#111;stroke-width:6.7"/>
<path d="M240 461 L338 455 L530 497 L760 548 Q850 555 905 535" style="stroke:#fff;stroke-width:3.5"/>
<path d="M642 448 C560 420 470 370 400 376 C350 385 330 430 346 480 C362 540 430 555 500 520 C560 495 620 470 700 420 C760 372 840 355 900 376 C950 400 960 460 935 510 C900 555 800 560 740 530 C700 510 670 480 642 448" style="stroke:#111;stroke-width:6.7"/>
<path d="M642 448 C560 420 470 370 400 376 C350 385 330 430 346 480 C362 540 430 555 500 520 C560 495 620 470 700 420 C760 372 840 355 900 376 C950 400 960 460 935 510 C900 555 800 560 740 530 C700 510 670 480 642 448" style="stroke:#fff;stroke-width:3.5"/>
<path d="M520 508 L640 458 L900 385 L1030 348 Q1100 325 1125 270 L1158 212" style="stroke:#111;stroke-width:6.7"/>
<path d="M520 508 L640 458 L900 385 L1030 348 Q1100 325 1125 270 L1158 212" style="stroke:#fff;stroke-width:3.5"/>
</g>
<path class="t" d="M520 490 L528 512 M840 540 L842 560 M1148 205 L1168 218"/>
<!-- cable tie -->
<path class="kk" d="M645 268 L650 500"/>
<!-- wires -->
<path d="M1152 212 Q1180 150 1165 90 M1164 214 Q1190 150 1175 92 M1160 214 Q1200 170 1265 132 M1168 220 Q1210 180 1270 142"/>
<path class="k" d="M1146 46 L1170 44 L1172 92 L1150 92 Z"/>
<path class="kk" d="M1266 134 L1305 104"/>
<!-- plug -->
<path d="M15 452 L66 452 M15 462 L66 462"/>
<path class="k" d="M12 450 L12 465"/>
<path d="M70 410 Q60 455 72 500 L128 506 L122 400 Z M85 408 Q76 455 88 502"/>
<path class="k" d="M122 398 L140 400 L142 520 L126 520 Z"/>
<path d="M142 420 L182 440 L182 482 L142 502"/>
<path class="f" d="M185 436 L216 434 L216 486 L185 486 Z"/>
<path class="k" d="M216 430 L240 430 L240 490 L216 490"/>
</g>
<!-- small ring -->
<g transform="translate(262.2,834.7)">
<circle class="kk" cx="0" cy="0" r="10.2" style="stroke-width:3"/>
<path class="k" d="M-5.5 -5 Q1 -9 6.5 -3 Q8 2 4 7 Q1 9 -2 8 M-3 -4 L-2 6"/>
<path class="k" d="M8.5 -4 L15 -3.5 L16.2 0.8 L14.7 5.3 L10 4"/>
<path class="k" d="M2 10 L11 9.3 L8.5 13 L3.5 13.7 Z"/>
</g>
<!-- part 20 nuts -->
<g transform="translate(1090,820) scale(0.09084)">
<path class="f" d="M245 215 Q310 195 385 210 L392 290 L410 300 L410 330 L225 330 L225 300 L245 285 Z"/>
<ellipse cx="315" cy="222" rx="40" ry="11" style="fill:#ddd;stroke:none"/>
<ellipse cx="312" cy="282" rx="45" ry="10" style="fill:#888;stroke:none"/>
<path class="k" d="M230 320 L232 365 Q310 385 408 360 L408 320"/>
<path class="f" d="M860 480 Q925 458 1000 475 L1008 540 L1026 550 L1026 590 L845 590 L845 550 L862 538 Z"/>
<ellipse cx="930" cy="488" rx="42" ry="11" style="fill:#ddd;stroke:none"/>
<ellipse cx="930" cy="545" rx="45" ry="9" style="fill:#999;stroke:none"/>
<path class="k" d="M850 580 L852 632 Q930 645 1024 625 L1024 580"/>
<path class="f" d="M850 580 L915 585 L910 638 L852 632 Z"/>
</g>

<!-- 31_bottle.svg -->
<g transform="translate(20,770) scale(0.16654)">
<!-- bottle body -->
<path d="M245 510 L230 1010 Q260 1075 350 1100 Q440 1115 540 1095 Q600 1065 610 1020 L620 500"/>
<path d="M245 510 Q300 575 350 582 Q440 600 540 580 Q600 550 620 500"/>
<path d="M245 510 L345 420 M620 500 L525 400"/>
<path d="M345 420 L345 365 M525 400 L535 310"/>
<path d="M345 420 Q430 480 525 420 M345 385 Q430 420 530 375"/>
<path class="t" d="M255 540 L243 1000 M608 540 L598 1010"/>
<!-- ribs -->
<path class="k" d="M335 575 L325 1095 M360 580 L350 1102 M378 585 L372 1100"/>
<path class="k" d="M515 580 L510 1098 M538 575 L535 1095 M556 570 L552 1085"/>
<path class="k" d="M335 575 Q350 550 375 580 M515 578 Q535 550 556 572"/>
<!-- nozzle: left knob -->
<path class="k" d="M100 245 Q80 290 90 350 Q105 390 135 385"/>
<ellipse class="k" cx="118" cy="318" rx="16" ry="52" transform="rotate(-12 118 318)"/>
<path d="M100 245 L240 208 M135 385 L275 352"/>
<path class="k" d="M140 262 L255 232 M150 300 L262 272 M155 340 L268 312 M150 365 L268 338 M140 380 L150 255 M250 215 L262 355"/>
<path class="k" d="M175 290 L245 275 L250 300 L180 318 Z"/>
<path class="kk" d="M95 270 Q88 320 105 368 M150 372 L262 345 M130 250 L240 222"/>
<!-- ring -->
<path d="M240 208 Q262 200 285 205 L330 192 M275 352 L345 335"/>
<path d="M285 205 Q310 260 300 345 M330 192 Q352 250 345 335"/>
<!-- barrel -->
<path d="M330 192 L535 140"/>
<path class="k" d="M345 215 L525 170 M360 290 L545 240 M385 302 L555 262"/>
<path class="k" d="M345 335 L420 318 M380 318 L440 305"/>
<path class="kk" d="M440 295 L510 282"/>
<!-- flange -->
<ellipse class="kk" cx="565" cy="222" rx="34" ry="84" transform="rotate(-12 565 222)" style="stroke-width:5.5"/>
<path class="k" d="M520 150 Q550 120 580 150 M545 300 Q575 320 595 285"/>
<!-- stem -->
<path d="M608 168 L748 135 M622 255 L752 222"/>
<path d="M748 135 Q765 175 752 222 M720 142 Q738 180 728 228"/>
<path class="k" d="M682 200 L738 188 L742 232 L690 245 Z"/>
<path d="M752 150 L800 140 M758 208 L805 198"/>
<path class="k" d="M770 148 Q782 175 775 205 M790 144 Q802 170 795 200"/>
<path d="M800 142 L862 132 Q885 160 868 185 L805 196"/>
<!-- neck connector -->
<path d="M345 365 Q360 340 390 335 M535 310 L540 290"/>
</g>

</g>
<g id="labels" style="filter:blur(0.3px)">
<text transform="translate(91.5,320) scale(0.62,1)" font-size="52">1</text>
<path class="ld" d="M83 329.5H117M117 329.5L220 750"/>
<circle class="dot" cx="220" cy="750" r="3.1"/>
<text transform="translate(159.5,320) scale(0.62,1)" font-size="52">2</text>
<path class="ld" d="M151 329.5H185M185 329.5L282 697"/>
<circle class="dot" cx="282" cy="697" r="3.1"/>
<text transform="translate(202.5,320) scale(0.62,1)" font-size="52">3</text>
<path class="ld" d="M194 329.5H229M229 329.5L308 600"/>
<text transform="translate(306.5,320) scale(0.62,1)" font-size="52">4</text>
<path class="ld" d="M299 329.5H333M333 329.5L395 567"/>
<circle class="dot" cx="395" cy="567" r="3.1"/>
<text transform="translate(378.5,320) scale(0.62,1)" font-size="52">5</text>
<path class="ld" d="M371 329.5H406M406 329.5L495 653"/>
<circle class="dot" cx="495" cy="653" r="3.1"/>
<text transform="translate(468.5,320) scale(0.62,1)" font-size="52">6</text>
<path class="ld" d="M462 329.5H497M497 329.5L552 520"/>
<circle class="dot" cx="552" cy="520" r="3.1"/>
<text transform="translate(526.5,320) scale(0.62,1)" font-size="52">7</text>
<path class="ld" d="M517 329.5H552M552 329.5L671 634"/>
<text transform="translate(576.5,320) scale(0.62,1)" font-size="52">8</text>
<path class="ld" d="M567 329.5H602M602 329.5L695 567"/>
<text transform="translate(666.5,320) scale(0.62,1)" font-size="52">9</text>
<path class="ld" d="M658 329.5H693M693 329.5L847 597"/>
<text transform="translate(700.5,320) scale(0.62,1)" font-size="52">10</text>
<path class="ld" d="M699 329.5H734M734 329.5L880 623"/>
<text transform="translate(753.5,320) scale(0.62,1)" font-size="52">11</text>
<path class="ld" d="M753 329.5H788M788 329.5L908 598"/>
<text transform="translate(793.5,320) scale(0.62,1)" font-size="52">12</text>
<path class="ld" d="M793 329.5H828M828 329.5L868 433"/>
<circle class="dot" cx="868" cy="433" r="3.1"/>
<text transform="translate(838.5,320) scale(0.62,1)" font-size="52">13</text>
<path class="ld" d="M838 329.5H873M873 329.5L899 395"/>
<circle class="dot" cx="899" cy="395" r="3.1"/>
<text transform="translate(968.5,320) scale(0.62,1)" font-size="52">14</text>
<path class="ld" d="M968 329.5H1003M968 329.5L917 593"/>
<text transform="translate(1021.5,320) scale(0.62,1)" font-size="52">15</text>
<path class="ld" d="M1022 329.5H1057M1022 329.5L948 573"/>
<text transform="translate(1075.5,320) scale(0.62,1)" font-size="52">16</text>
<path class="ld" d="M1075 329.5H1110M1075 329.5L959 622"/>
<text transform="translate(1171.5,320) scale(0.62,1)" font-size="52">17</text>
<path class="ld" d="M1170 329.5H1206M1170 329.5L1155 449"/>
<circle class="dot" cx="1155" cy="449" r="3.1"/>
<text transform="translate(1229.5,320) scale(0.62,1)" font-size="52">18</text>
<path class="ld" d="M1229 329.5H1264M1229 329.5L1155 538"/>
<circle class="dot" cx="1155" cy="538" r="3.1"/>
<text transform="translate(1286.5,320) scale(0.62,1)" font-size="52">19</text>
<path class="ld" d="M1285 329.5H1321M1285 329.5L1206 515"/>
<text transform="translate(150.5,1015.5) scale(0.62,1)" font-size="42">31</text>
<path class="ld" d="M136 1023.8H192M136 1023.8L104 910"/>
<circle class="dot" cx="104" cy="910" r="3.1"/>
<text transform="translate(341.5,1014) scale(0.62,1)" font-size="52">30</text>
<path class="ld" d="M342 1023.8H377M342 1023.8L315 800"/>
<text transform="translate(480.5,1014) scale(0.62,1)" font-size="52">29</text>
<path class="ld" d="M478 1023.8H515M478 1023.8L376.6 850"/>
<text transform="translate(578.5,1014) scale(0.62,1)" font-size="52">28</text>
<path class="ld" d="M578 1023.8H613M578 1023.8L557 970"/>
<text transform="translate(631.5,1014) scale(0.62,1)" font-size="52">27</text>
<path class="ld" d="M632 1023.8H667M632 1023.8L547 830"/>
<text transform="translate(693.5,1014) scale(0.62,1)" font-size="52">26</text>
<path class="ld" d="M692 1023.8H728M692 1023.8L665 833"/>
<text transform="translate(768.5,1014) scale(0.62,1)" font-size="52">25</text>
<path class="ld" d="M767 1023.8H803M767 1023.8L723 937"/>
<text transform="translate(833.5,1014) scale(0.62,1)" font-size="52">24</text>
<path class="ld" d="M833 1023.8H867M833 1023.8L728 810"/>
<circle class="dot" cx="728" cy="810" r="3.1"/>
<text transform="translate(915.5,1014) scale(0.62,1)" font-size="52">23</text>
<path class="ld" d="M915 1023.8H948M915 1023.8L725 722"/>
<circle class="dot" cx="725" cy="722" r="3.1"/>
<text transform="translate(1015.5,1014) scale(0.62,1)" font-size="52">22</text>
<path class="ld" d="M1014 1023.8H1050M1014 1023.8L882 737"/>
<text transform="translate(1129.5,1014) scale(0.62,1)" font-size="52">21</text>
<path class="ld" d="M1129 1023.8H1164M1129 1023.8L1046 802"/>
<text transform="translate(1222.5,1014) scale(0.62,1)" font-size="52">20</text>
<path class="ld" d="M1223 1023.8H1258M1223 1023.8L1171 877"/>
</g>
</svg>
</body></html>
